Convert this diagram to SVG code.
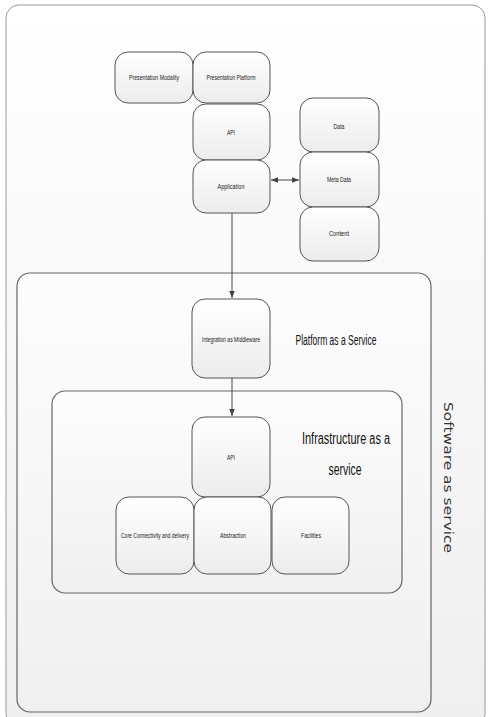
<svg xmlns="http://www.w3.org/2000/svg" width="488" height="717" viewBox="0 0 488 717">
  <style>
    .box { stroke: #555; stroke-width: 1; fill: url(#nodeFill); }
    .frame { stroke: #666; stroke-width: 1.2; }
    .lbl { font-family: "Liberation Sans", Arial, sans-serif; font-size: 7.5px; fill: #222; text-anchor: middle; }
    .big { font-family: "Liberation Sans", Arial, sans-serif; fill: #111; text-anchor: middle; }
    .conn { stroke: #444; stroke-width: 1; fill: none; }
  </style>
  <defs>
    <linearGradient id="nodeFill" x1="0" y1="0" x2="0" y2="1">
      <stop offset="0" stop-color="#ffffff"/>
      <stop offset="1" stop-color="#ececec"/>
    </linearGradient>
    <linearGradient id="pageFill" x1="0" y1="0" x2="0" y2="1">
      <stop offset="0" stop-color="#ffffff"/>
      <stop offset="1" stop-color="#efefef"/>
    </linearGradient>
    <linearGradient id="layerFill" x1="0" y1="0" x2="0" y2="1">
      <stop offset="0" stop-color="#fdfdfd"/>
      <stop offset="1" stop-color="#f0f0f0"/>
    </linearGradient>
    <marker id="arrow" viewBox="0 0 10 10" refX="10" refY="5" markerWidth="7" markerHeight="7" orient="auto-start-reverse" markerUnits="userSpaceOnUse">
      <path d="M0,1 L10,5 L0,9 z" fill="#444"/>
    </marker>
  </defs>

  <rect width="488" height="717" fill="#ffffff"/>

  <!-- Software as service (outer frame) -->
  <g id="saas">
    <rect x="6" y="5" width="479" height="722" rx="13" fill="url(#pageFill)" stroke="#999" stroke-width="1"/>
    <text x="0" y="0" transform="translate(444,402) rotate(90)" font-family="'DejaVu Sans', Verdana, sans-serif" font-size="12.5" fill="#333" textLength="151" lengthAdjust="spacingAndGlyphs">Software as service</text>
  </g>

  <!-- Platform as a Service layer -->
  <g id="paas">
    <rect x="17" y="273" width="414" height="439" rx="13" fill="url(#layerFill)" class="frame"/>
    <text class="big" x="336" y="345" font-size="14" textLength="81" lengthAdjust="spacingAndGlyphs">Platform as a Service</text>
  </g>

  <!-- Infrastructure as a service layer -->
  <g id="iaas">
    <rect x="52" y="391" width="350" height="202" rx="13" fill="url(#layerFill)" class="frame"/>
    <text class="big" x="346" y="444" font-size="16" textLength="88" lengthAdjust="spacingAndGlyphs">Infrastructure as a</text>
    <text class="big" x="345" y="475" font-size="16" textLength="33" lengthAdjust="spacingAndGlyphs">service</text>
  </g>

  <g id="presentation-modality">
    <rect class="box" x="115" y="52" width="78" height="51" rx="13"/>
    <text class="lbl" x="154" y="80" textLength="50" lengthAdjust="spacingAndGlyphs">Presentation Modality</text>
  </g>
  <g id="presentation-platform">
    <rect class="box" x="193" y="52" width="77" height="51" rx="13"/>
    <text class="lbl" x="231" y="80" textLength="49" lengthAdjust="spacingAndGlyphs">Presentation Platform</text>
  </g>
  <g id="api-top">
    <rect class="box" x="193" y="104" width="77" height="56" rx="13"/>
    <text class="lbl" x="231" y="135" textLength="8" lengthAdjust="spacingAndGlyphs">API</text>
  </g>
  <g id="application">
    <rect class="box" x="193" y="160" width="77" height="53" rx="13"/>
    <text class="lbl" x="231" y="189" textLength="27" lengthAdjust="spacingAndGlyphs">Application</text>
  </g>

  <g id="data">
    <rect class="box" x="300" y="98" width="79" height="54" rx="13"/>
    <text class="lbl" x="339" y="129" textLength="11" lengthAdjust="spacingAndGlyphs">Data</text>
  </g>
  <g id="meta-data">
    <rect class="box" x="300" y="152" width="79" height="55" rx="13"/>
    <text class="lbl" x="339" y="182" textLength="24" lengthAdjust="spacingAndGlyphs">Meta Data</text>
  </g>
  <g id="content">
    <rect class="box" x="300" y="207" width="79" height="54" rx="13"/>
    <text class="lbl" x="339" y="236" textLength="20" lengthAdjust="spacingAndGlyphs">Content</text>
  </g>

  <g id="integration">
    <rect class="box" x="192" y="299" width="78" height="79" rx="13"/>
    <text class="lbl" x="231" y="342" textLength="58" lengthAdjust="spacingAndGlyphs">Integration as Middleware</text>
  </g>

  <g id="api-iaas">
    <rect class="box" x="192" y="417" width="78" height="80" rx="13"/>
    <text class="lbl" x="231" y="460" textLength="8" lengthAdjust="spacingAndGlyphs">API</text>
  </g>
  <g id="core-connectivity">
    <rect class="box" x="116" y="497" width="78" height="77" rx="13"/>
    <text class="lbl" x="155" y="538" textLength="68" lengthAdjust="spacingAndGlyphs">Core Connectivity and delivery</text>
  </g>
  <g id="abstraction">
    <rect class="box" x="194" y="497" width="77" height="77" rx="13"/>
    <text class="lbl" x="233" y="538" textLength="26" lengthAdjust="spacingAndGlyphs">Abstraction</text>
  </g>
  <g id="facilities">
    <rect class="box" x="272" y="497" width="77" height="77" rx="13"/>
    <text class="lbl" x="311" y="538" textLength="20" lengthAdjust="spacingAndGlyphs">Facilities</text>
  </g>

  <!-- connectors -->
  <g id="connectors">
    <line class="conn" x1="271" y1="180" x2="299" y2="180" marker-start="url(#arrow)" marker-end="url(#arrow)"/>
    <line class="conn" x1="232" y1="213" x2="232" y2="298" marker-end="url(#arrow)"/>
    <line class="conn" x1="232" y1="378" x2="232" y2="416" marker-end="url(#arrow)"/>
  </g>
</svg>
